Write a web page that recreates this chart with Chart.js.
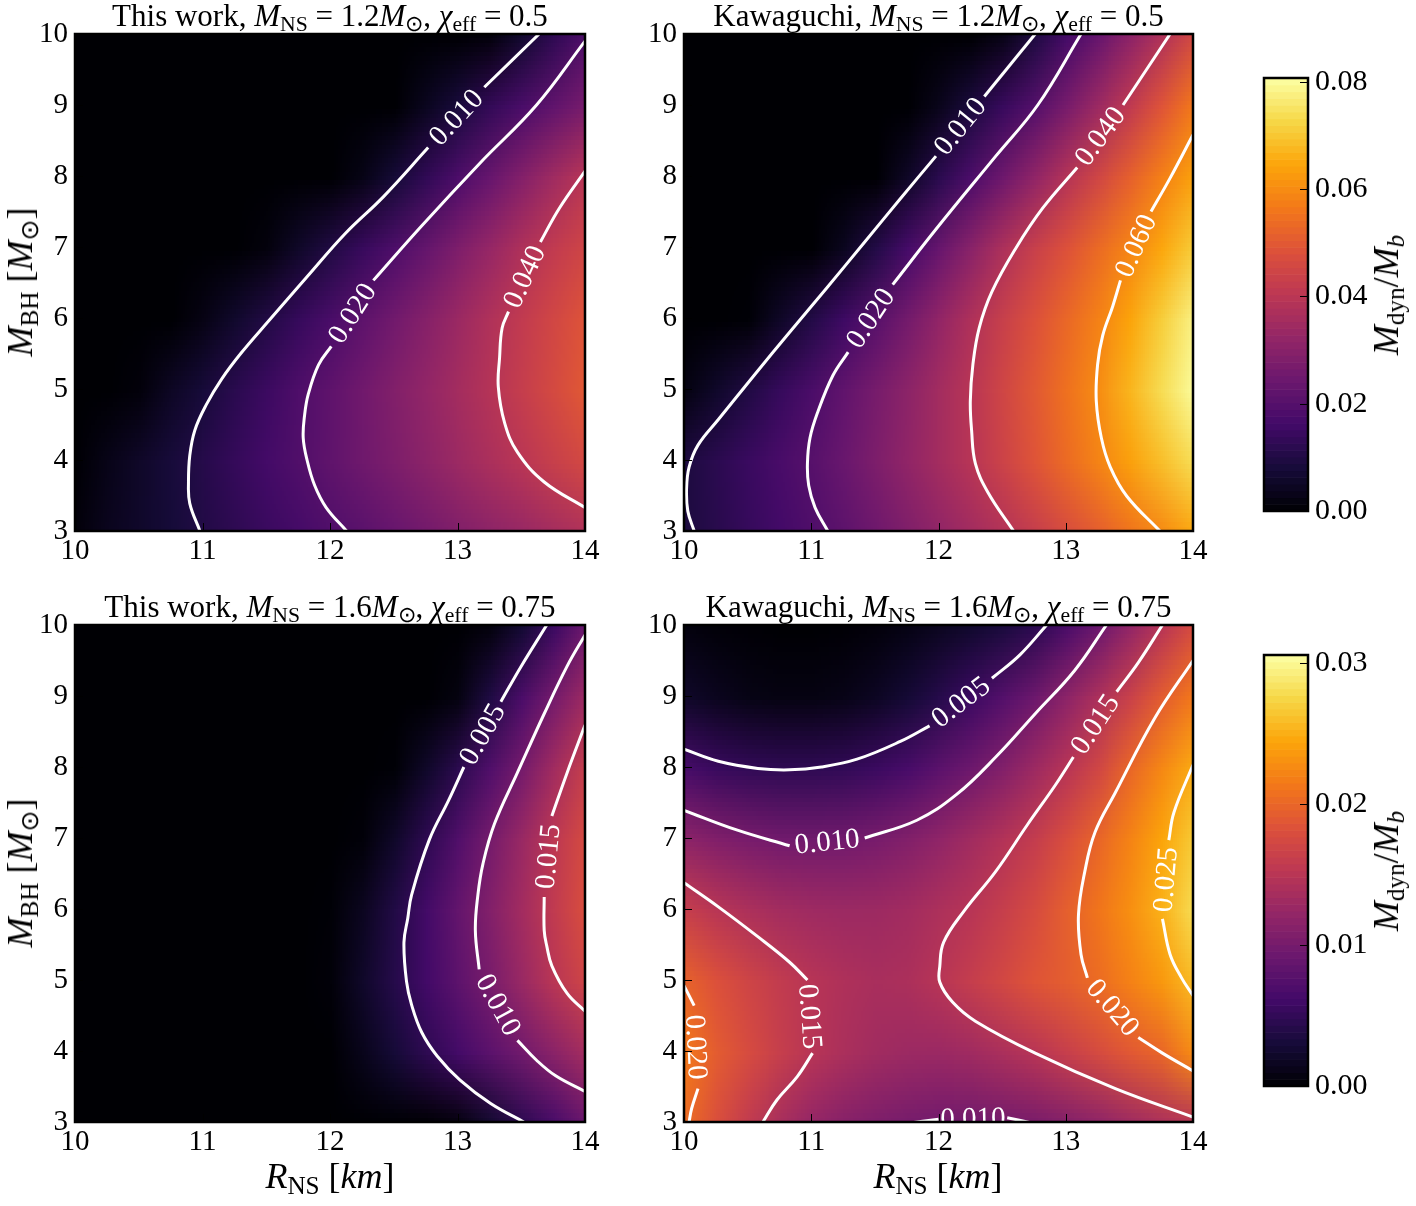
<!DOCTYPE html>
<html>
<head>
<meta charset="utf-8">
<script src="https://cdn.jsdelivr.net/npm/chart.js@4.4.1/dist/chart.umd.min.js"></script>
<style>
body{margin:0;background:#fff;width:1416px;height:1206px;position:relative;overflow:hidden;font-family:'Liberation Serif',serif;color:#000}
canvas{position:absolute}
.ttl{position:absolute;text-align:center;font-size:31px;line-height:31px;white-space:nowrap}
.lab{position:absolute;font-size:36px;line-height:36px;white-space:nowrap;transform:translate(-50%,-50%)}
.rot{transform:translate(-50%,-50%) rotate(-90deg)}
.s{font-size:70%;position:relative;top:0.25em}
</style>
</head>
<body>
<canvas id="p1"></canvas>
<canvas id="p2"></canvas>
<canvas id="p3"></canvas>
<canvas id="p4"></canvas>
<canvas id="cb1"></canvas>
<canvas id="cb2"></canvas>

<div class="ttl" style="left:75px;width:510px;top:0px">This work, <i>M</i><span class="s">NS</span> = 1.2<i>M</i><span class="s">⊙</span>, <i>χ</i><span class="s">eff</span> = 0.5</div>
<div class="ttl" style="left:684px;width:509px;top:0px">Kawaguchi, <i>M</i><span class="s">NS</span> = 1.2<i>M</i><span class="s">⊙</span>, <i>χ</i><span class="s">eff</span> = 0.5</div>
<div class="ttl" style="left:75px;width:510px;top:591px">This work, <i>M</i><span class="s">NS</span> = 1.6<i>M</i><span class="s">⊙</span>, <i>χ</i><span class="s">eff</span> = 0.75</div>
<div class="ttl" style="left:684px;width:509px;top:591px">Kawaguchi, <i>M</i><span class="s">NS</span> = 1.6<i>M</i><span class="s">⊙</span>, <i>χ</i><span class="s">eff</span> = 0.75</div>

<div class="lab rot" style="left:22px;top:282px"><i>M</i><span class="s">BH</span> [<i>M</i><span class="s">⊙</span>]</div>
<div class="lab rot" style="left:22px;top:873px"><i>M</i><span class="s">BH</span> [<i>M</i><span class="s">⊙</span>]</div>
<div class="lab" style="left:330px;top:1178px"><i>R</i><span class="s">NS</span> [<i>km</i>]</div>
<div class="lab" style="left:938px;top:1178px"><i>R</i><span class="s">NS</span> [<i>km</i>]</div>
<div class="lab rot" style="left:1388px;top:295px"><i>M</i><span class="s">dyn</span>/<i>M</i><span class="s"><i>b</i></span></div>
<div class="lab rot" style="left:1388px;top:871px"><i>M</i><span class="s">dyn</span>/<i>M</i><span class="s"><i>b</i></span></div>

<script>
// grid nodes of the colour maps
const gridR = [10, 10.25, 10.5, 10.75, 11, 11.25, 11.5, 11.75, 12, 12.25, 12.5, 12.75, 13, 13.25, 13.5, 13.75, 14];
const gridM = [3, 4, 5, 6, 7, 8, 9, 10];

const xTicks = [10, 11, 12, 13, 14];
const yTicks = [3, 4, 5, 6, 7, 8, 9, 10];
const cbTopTicks = [0, 0.02, 0.04, 0.06, 0.08];
const cbBotTicks = [0, 0.01, 0.02, 0.03];
const vmaxTop = 0.0807;
const vmaxBot = 0.0306;

// M_dyn/M_b, one row per M_BH (3 .. 10), columns follow gridR
const p1Grid = [
  [0.001, 0.004, 0.006, 0.008, 0.0103, 0.0124, 0.0146, 0.0168, 0.019, 0.021, 0.0237, 0.026, 0.0285, 0.031, 0.033, 0.0357, 0.038],
  [0.0, 0.003, 0.0057, 0.0084, 0.011, 0.0138, 0.0165, 0.0192, 0.0221, 0.0251, 0.028, 0.031, 0.034, 0.037, 0.040, 0.043, 0.046],
  [0, 0, 0.001, 0.005, 0.0083, 0.0118, 0.015, 0.0188, 0.022, 0.0255, 0.029, 0.0323, 0.0357, 0.039, 0.0426, 0.0463, 0.050],
  [0, 0, 0, 0, 0.0025, 0.0063, 0.0102, 0.014, 0.0178, 0.0218, 0.0258, 0.0298, 0.0339, 0.0379, 0.0417, 0.0454, 0.049],
  [0, 0, 0, 0, 0, 0, 0.0014, 0.0057, 0.010, 0.0143, 0.0186, 0.0233, 0.0281, 0.0329, 0.0377, 0.0417, 0.045],
  [0, 0, 0, 0, 0, 0, 0, 0, 0, 0.0027, 0.0079, 0.0131, 0.0183, 0.0237, 0.0293, 0.0349, 0.040],
  [0, 0, 0, 0, 0, 0, 0, 0, 0, 0, 0, 0.0042, 0.0087, 0.0133, 0.0178, 0.0223, 0.027],
  [0, 0, 0, 0, 0, 0, 0, 0, 0, 0, 0, 0, 0, 0.001, 0.0066, 0.0126, 0.0188]
];
const p2Grid = [
  [0.0093, 0.0115, 0.014, 0.0164, 0.0187, 0.0215, 0.0249, 0.0283, 0.0318, 0.0352, 0.0386, 0.0426, 0.0469, 0.0512, 0.0555, 0.0598, 0.065],
  [0.0093, 0.012, 0.0147, 0.0175, 0.0203, 0.0241, 0.028, 0.0318, 0.0357, 0.0395, 0.0442, 0.049, 0.0538, 0.0587, 0.0637, 0.0688, 0.074],
  [0.002, 0.006, 0.010, 0.014, 0.018, 0.0223, 0.0267, 0.031, 0.0354, 0.0398, 0.0449, 0.050, 0.0551, 0.0603, 0.0671, 0.0738, 0.080],
  [0, 0, 0.0005, 0.0054, 0.0104, 0.0154, 0.0205, 0.0262, 0.032, 0.0377, 0.043, 0.0481, 0.0531, 0.0582, 0.0644, 0.0712, 0.078],
  [0, 0, 0, 0, 0, 0.0041, 0.0105, 0.0169, 0.0236, 0.0304, 0.0373, 0.0432, 0.0484, 0.0537, 0.0589, 0.0649, 0.071],
  [0, 0, 0, 0, 0, 0, 0, 0.0054, 0.0118, 0.0182, 0.025, 0.0319, 0.0389, 0.0453, 0.0516, 0.058, 0.064],
  [0, 0, 0, 0, 0, 0, 0, 0, 0.0035, 0.0089, 0.0143, 0.0198, 0.027, 0.0342, 0.0413, 0.049, 0.0567],
  [0, 0, 0, 0, 0, 0, 0, 0, 0, 0, 0.0028, 0.0097, 0.0167, 0.0237, 0.0309, 0.038, 0.046]
];
const p3Grid = [
  [0, 0, 0, 0, 0, 0, 0, 0, 0, 0, 0, 0, 0.0005, 0.0025, 0.0046, 0.0065, 0.0090],
  [0, 0, 0, 0, 0, 0, 0, 0, 0, 0.0013, 0.003, 0.0047, 0.0063, 0.008, 0.0097, 0.0116, 0.0135],
  [0, 0, 0, 0, 0, 0, 0, 0, 0.0003, 0.0022, 0.0042, 0.0062, 0.0082, 0.0102, 0.0127, 0.0151, 0.0170],
  [0, 0, 0, 0, 0, 0, 0, 0, 0.0002, 0.0016, 0.0039, 0.0063, 0.0087, 0.011, 0.0134, 0.0158, 0.0180],
  [0, 0, 0, 0, 0, 0, 0, 0, 0, 0.0003, 0.0022, 0.0047, 0.0073, 0.010, 0.0127, 0.0154, 0.0176],
  [0, 0, 0, 0, 0, 0, 0, 0, 0, 0, 0.0002, 0.0022, 0.0045, 0.0072, 0.010, 0.0133, 0.0162],
  [0, 0, 0, 0, 0, 0, 0, 0, 0, 0, 0, 0, 0.0007, 0.0037, 0.0068, 0.010, 0.013],
  [0, 0, 0, 0, 0, 0, 0, 0, 0, 0, 0, 0, 0, 0.0005, 0.0027, 0.0057, 0.0093]
];
const p4Grid = [
  [0.0205, 0.018, 0.0158, 0.0138, 0.0123, 0.0113, 0.0106, 0.0101, 0.0098, 0.0097, 0.0099, 0.0103, 0.011, 0.0119, 0.013, 0.014, 0.0148],
  [0.0215, 0.0192, 0.0177, 0.0162, 0.015, 0.014, 0.0133, 0.0129, 0.0128, 0.0132, 0.014, 0.015, 0.0163, 0.0176, 0.0189, 0.020, 0.0228],
  [0.0198, 0.0183, 0.017, 0.0159, 0.015, 0.0143, 0.0139, 0.0141, 0.015, 0.0161, 0.0173, 0.0186, 0.0194, 0.0205, 0.022, 0.0236, 0.0258],
  [0.0163, 0.0151, 0.0142, 0.0135, 0.0131, 0.0129, 0.013, 0.0134, 0.0142, 0.015, 0.0162, 0.0177, 0.0195, 0.0212, 0.023, 0.0252, 0.028],
  [0.0118, 0.0109, 0.0102, 0.0098, 0.0097, 0.0098, 0.0102, 0.011, 0.012, 0.0133, 0.0146, 0.016, 0.018, 0.020, 0.0222, 0.0245, 0.0268],
  [0.0065, 0.0055, 0.0050, 0.0048, 0.0048, 0.0050, 0.0056, 0.0066, 0.008, 0.0094, 0.011, 0.013, 0.015, 0.0172, 0.020, 0.0225, 0.0249],
  [0.0022, 0.0015, 0.001, 0.0008, 0.0008, 0.0011, 0.0018, 0.0029, 0.0042, 0.0057, 0.0075, 0.0094, 0.0118, 0.0142, 0.0165, 0.0192, 0.0215],
  [0.0006, 0.0003, 0.0001, 0, 0, 0.0001, 0.0004, 0.0009, 0.0016, 0.0024, 0.0034, 0.0046, 0.0068, 0.0093, 0.0122, 0.015, 0.0178]
];

// contour lines as [R, M] points; null marks the gap where the inline label sits
const p1_010 = [[10.98,3.0],[10.90,3.39],[10.89,3.69],[10.90,4.06],[10.94,4.42],[11.03,4.78],[11.15,5.14],[11.30,5.50],[11.52,5.96],[11.82,6.58],[12.12,7.19],[12.42,7.71],[12.77,8.40],null,[13.21,9.25],[13.64,10.0]];
const p1_020 = [[12.13,3.0],[11.97,3.33],[11.88,3.64],[11.82,4.0],[11.79,4.31],[11.80,4.62],[11.83,4.93],[11.91,5.34],[12.01,5.60],null,[12.34,6.53],[12.72,7.30],[13.17,8.17],[13.62,9.0],[14.0,9.90]];
const p1_040 = [[14.0,3.33],[13.68,3.69],[13.47,4.11],[13.37,4.52],[13.32,5.03],[13.33,5.44],[13.35,5.86],[13.40,6.09],null,[13.65,7.07],[13.80,7.55],[14.0,8.07]];

const p2_010 = [[10.08,3.0],[10.03,3.28],[10.02,3.59],[10.04,3.9],[10.11,4.21],[10.27,4.57],[10.55,5.19],[10.83,5.8],[11.12,6.42],[11.42,7.07],[11.70,7.68],[11.98,8.28],null,[12.36,9.12],[12.76,10.0]];
const p2_020 = [[11.13,3.0],[11.03,3.33],[10.98,3.64],[10.97,3.95],[10.99,4.31],[11.05,4.67],[11.17,5.19],[11.29,5.52],null,[11.64,6.47],[11.98,7.25],[12.45,8.28],[12.78,9.0],[13.12,10.0]];
const p2_040 = [[12.59,3.0],[12.39,3.54],[12.29,3.95],[12.26,4.42],[12.25,4.83],[12.27,5.34],[12.32,5.86],[12.42,6.37],[12.61,6.99],[12.82,7.55],[13.09,8.12],null,[13.45,9.0],[13.82,10.0]];
const p2_060 = [[13.74,3.0],[13.48,3.49],[13.35,3.9],[13.28,4.31],[13.24,4.83],[13.25,5.34],[13.29,5.75],[13.37,6.17],[13.43,6.53],null,[13.67,7.5],[13.82,7.97],[14.0,8.58]];

const p3_005 = [[13.52,3.0],[13.26,3.26],[13.02,3.59],[12.84,3.93],[12.72,4.26],[12.64,4.65],[12.60,4.98],[12.58,5.53],[12.61,5.87],[12.64,6.20],[12.78,6.98],[12.93,7.53],[13.05,8.0],null,[13.34,8.92],[13.50,9.42],[13.70,10.0]];
const p3_010 = [[14.0,3.43],[13.77,3.65],[13.62,3.87],[13.47,4.15],null,[13.17,5.15],[13.14,5.70],[13.16,6.20],[13.20,6.64],[13.29,7.20],[13.47,7.92],[13.68,8.75],[13.86,9.42],[14.0,9.86]];
const p3_015 = [[14.0,4.56],[13.86,4.81],[13.74,5.20],[13.70,5.48],[13.68,5.70],[13.68,6.17],null,[13.74,7.31],[13.86,7.92],[14.0,8.59]];

const p4_005 = [[10.0,8.25],[10.27,8.08],[10.58,7.98],[10.83,7.96],[11.08,8.0],[11.36,8.11],[11.70,8.36],[11.93,8.58],null,[12.42,9.25],[12.64,9.58],[12.85,10.0]];
const p4_010a = [[10.0,7.39],[10.42,7.11],[10.83,6.89],null,[11.42,7.0],[11.83,7.25],[12.14,7.61],[12.45,8.14],[12.76,8.75],[13.07,9.36],[13.32,10.0]];
const p4_010b = [[11.75,2.98],[12.0,3.04],null,[12.54,3.06],[12.75,2.98]];
const p4_015a = [[10.0,6.37],[10.27,6.03],[10.58,5.61],[10.83,5.25],[10.97,5.0],null,[11.01,3.97],[10.89,3.64],[10.73,3.31],[10.62,3.0]];
const p4_015b = [[14.0,3.07],[13.39,3.47],[12.76,3.97],[12.29,4.42],[12.11,4.69],[12.01,4.97],[12.01,5.19],[12.04,5.53],[12.20,5.97],[12.45,6.53],[12.70,7.19],[12.92,7.75],[13.06,8.14],null,[13.40,9.06],[13.57,9.47],[13.76,10.0]];
const p4_020a = [[10.0,4.92],[10.08,4.64],null,[10.11,3.47],[10.06,3.19],[10.04,3.0]];
const p4_020b = [[14.0,9.50],[13.70,8.69],[13.39,7.64],[13.23,7.08],[13.15,6.53],[13.10,5.92],[13.12,5.36],[13.17,5.03],null,[13.57,4.19],[13.76,3.97],[14.0,3.72]];
const p4_025 = [[14.0,8.03],[13.85,7.36],[13.81,6.97],null,[13.76,5.86],[13.82,5.36],[13.91,5.03],[14.0,4.78]];

// inferno colour map stops
const INFERNO = [[0,0,4],[22,11,57],[66,10,104],[106,23,110],[147,38,103],[188,55,84],[221,81,58],[243,120,25],[252,165,10],[246,215,70],[252,255,164]];
function cmap(t) {
  t = Math.max(0, Math.min(1, t));
  const f = t * 10, i = Math.min(9, Math.floor(f)), u = f - i;
  const a = INFERNO[i], b = INFERNO[i + 1];
  return a.map((c, k) => Math.round(c + (b[k] - c) * u));
}

Chart.defaults.font.family = "'Liberation Serif', serif";
Chart.defaults.color = '#000';

function heatLayer(grid, vmax) { // paints the value grid under the contours
  return {
    id: 'heat',
    beforeDatasetsDraw(chart) {
      const {ctx, chartArea: a, scales: {x, y}} = chart;
      const nx = gridR.length, ny = gridM.length;
      const off = document.createElement('canvas');
      off.width = nx; off.height = ny;
      const octx = off.getContext('2d');
      const img = octx.createImageData(nx, ny);
      for (let j = 0; j < ny; j++) {
        const row = grid[ny - 1 - j];
        for (let i = 0; i < nx; i++) {
          const c = cmap(row[i] / vmax), k = (j * nx + i) * 4;
          img.data[k] = c[0]; img.data[k + 1] = c[1]; img.data[k + 2] = c[2]; img.data[k + 3] = 255;
        }
      }
      octx.putImageData(img, 0, 0);
      const dx = x.getPixelForValue(gridR[1]) - x.getPixelForValue(gridR[0]);
      const dy = y.getPixelForValue(gridM[0]) - y.getPixelForValue(gridM[1]);
      const x0 = x.getPixelForValue(gridR[0]) - dx / 2;
      const y0 = y.getPixelForValue(gridM[ny - 1]) - dy / 2;
      ctx.save();
      ctx.beginPath(); ctx.rect(a.left, a.top, a.width, a.height); ctx.clip();
      ctx.imageSmoothingEnabled = true;
      ctx.drawImage(off, x0, y0, dx * nx, dy * ny);
      ctx.restore();
    }
  };
}

function overlay(contours) { // contour labels, inward ticks and the frame
  return {
    id: 'overlay',
    afterDatasetsDraw(chart) {
      const {ctx, chartArea: a, scales: {x, y}} = chart;
      ctx.save();
      ctx.beginPath(); ctx.rect(a.left, a.top, a.width, a.height); ctx.clip();
      ctx.fillStyle = '#fff';
      ctx.font = "29px 'Liberation Serif', serif";
      ctx.textAlign = 'center';
      ctx.textBaseline = 'middle';
      contours.forEach(c => {
        c.pts.forEach((p, i) => {
          if (p !== null) return;
          const p0 = c.pts[i - 1], p1 = c.pts[i + 1];
          const ax = x.getPixelForValue(p0[0]), ay = y.getPixelForValue(p0[1]);
          const bx = x.getPixelForValue(p1[0]), by = y.getPixelForValue(p1[1]);
          let ang = Math.atan2(by - ay, bx - ax);
          if (ang > Math.PI / 2) ang -= Math.PI;
          if (ang <= -Math.PI / 2) ang += Math.PI;
          ctx.save();
          ctx.translate((ax + bx) / 2, (ay + by) / 2);
          ctx.rotate(ang);
          ctx.fillText(c.level, 0, 1);
          ctx.restore();
        });
      });
      ctx.restore();

      ctx.save();
      ctx.strokeStyle = '#000';
      ctx.lineWidth = 1;
      ctx.beginPath();
      xTicks.forEach(v => {
        const px = Math.round(x.getPixelForValue(v)) + 0.5;
        ctx.moveTo(px, a.bottom); ctx.lineTo(px, a.bottom - 8);
      });
      yTicks.forEach(v => {
        const py = Math.round(y.getPixelForValue(v)) + 0.5;
        ctx.moveTo(a.left, py); ctx.lineTo(a.left + 8, py);
      });
      ctx.stroke();
      ctx.lineWidth = 2.5;
      ctx.strokeRect(a.left, a.top, a.width, a.height);
      ctx.restore();
    }
  };
}

function makePanel(id, geo, grid, vmax, contours) {
  const cv = document.getElementById(id);
  cv.width = geo.w + 90; cv.height = geo.h + 70;
  cv.style.left = (geo.l - 70) + 'px';
  cv.style.top = (geo.t - 30) + 'px';
  const datasets = [];
  contours.forEach(c => {
    let seg = [];
    c.pts.concat([null]).forEach(p => {
      if (p === null) {
        if (seg.length) datasets.push({
          data: seg, showLine: true, borderColor: '#fff', borderWidth: 3,
          pointRadius: 0, tension: 0.4, fill: false
        });
        seg = [];
      } else {
        seg.push({x: p[0], y: p[1]});
      }
    });
  });
  return new Chart(cv, {
    type: 'scatter',
    data: {datasets},
    options: {
      responsive: false,
      animation: false,
      events: [],
      layout: {padding: {left: 0, top: 30, right: 20, bottom: 0}},
      plugins: {legend: {display: false}, tooltip: {enabled: false}},
      scales: {
        x: {
          min: 10, max: 14,
          afterFit: s => { s.height = 40; },
          afterBuildTicks: s => { s.ticks = xTicks.map(v => ({value: v})); },
          grid: {display: false, drawTicks: false},
          border: {display: false},
          ticks: {padding: 3, maxRotation: 0, autoSkip: false, font: {size: 29}, callback: v => String(v)}
        },
        y: {
          min: 3, max: 10,
          afterFit: s => { s.width = 70; },
          afterBuildTicks: s => { s.ticks = yTicks.map(v => ({value: v})); },
          grid: {display: false, drawTicks: false},
          border: {display: false},
          ticks: {padding: 7, autoSkip: false, font: {size: 29}, callback: v => String(v)}
        }
      }
    },
    plugins: [heatLayer(grid, vmax), overlay(contours)]
  });
}

function makeBar(id, geo, vmax, ticks) {
  const cv = document.getElementById(id);
  cv.width = geo.w + 110; cv.height = geo.h + 60;
  cv.style.left = (geo.l - 10) + 'px';
  cv.style.top = (geo.t - 30) + 'px';
  return new Chart(cv, {
    type: 'scatter',
    data: {datasets: []},
    options: {
      responsive: false,
      animation: false,
      events: [],
      layout: {padding: {left: 10, top: 30, right: 0, bottom: 30}},
      plugins: {legend: {display: false}, tooltip: {enabled: false}},
      scales: {
        x: {display: false, min: 0, max: 1},
        y: {
          position: 'right', min: 0, max: vmax,
          afterFit: s => { s.width = 100; },
          afterBuildTicks: s => { s.ticks = ticks.map(v => ({value: v})); },
          grid: {display: false, drawTicks: false},
          border: {display: false},
          ticks: {padding: 7, autoSkip: false, font: {size: 30}, callback: v => v.toFixed(2)}
        }
      }
    },
    plugins: [{
      id: 'bar',
      afterDatasetsDraw(chart) {
        const {ctx, chartArea: a, scales: {y}} = chart;
        const n = 64;
        ctx.save();
        for (let i = 0; i < n; i++) {
          const y0 = y.getPixelForValue(vmax * i / n), y1 = y.getPixelForValue(vmax * (i + 1) / n);
          const c = cmap((i + 0.5) / n);
          ctx.fillStyle = `rgb(${c[0]},${c[1]},${c[2]})`;
          ctx.fillRect(a.left, y1, a.width, y0 - y1 + 0.6);
        }
        ctx.strokeStyle = '#000';
        ctx.lineWidth = 1;
        ctx.beginPath();
        ticks.forEach(v => {
          const py = Math.round(y.getPixelForValue(v)) + 0.5;
          ctx.moveTo(a.right, py); ctx.lineTo(a.right - 8, py);
        });
        ctx.stroke();
        ctx.lineWidth = 2.5;
        ctx.strokeRect(a.left, a.top, a.width, a.height);
        ctx.restore();
      }
    }]
  });
}

makePanel('p1', {l: 75, t: 34, w: 510, h: 497}, p1Grid, vmaxTop, [
  {level: '0.010', pts: p1_010}, {level: '0.020', pts: p1_020}, {level: '0.040', pts: p1_040}
]);
makePanel('p2', {l: 684, t: 34, w: 509, h: 497}, p2Grid, vmaxTop, [
  {level: '0.010', pts: p2_010}, {level: '0.020', pts: p2_020}, {level: '0.040', pts: p2_040}, {level: '0.060', pts: p2_060}
]);
makePanel('p3', {l: 75, t: 625, w: 510, h: 497}, p3Grid, vmaxBot, [
  {level: '0.005', pts: p3_005}, {level: '0.010', pts: p3_010}, {level: '0.015', pts: p3_015}
]);
makePanel('p4', {l: 684, t: 625, w: 509, h: 497}, p4Grid, vmaxBot, [
  {level: '0.005', pts: p4_005}, {level: '0.010', pts: p4_010a}, {level: '0.010', pts: p4_010b},
  {level: '0.015', pts: p4_015a}, {level: '0.015', pts: p4_015b},
  {level: '0.020', pts: p4_020a}, {level: '0.020', pts: p4_020b}, {level: '0.025', pts: p4_025}
]);
makeBar('cb1', {l: 1264, t: 78, w: 44, h: 433}, vmaxTop, cbTopTicks);
makeBar('cb2', {l: 1264, t: 655, w: 44, h: 431}, vmaxBot, cbBotTicks);
</script>
</body>
</html>
